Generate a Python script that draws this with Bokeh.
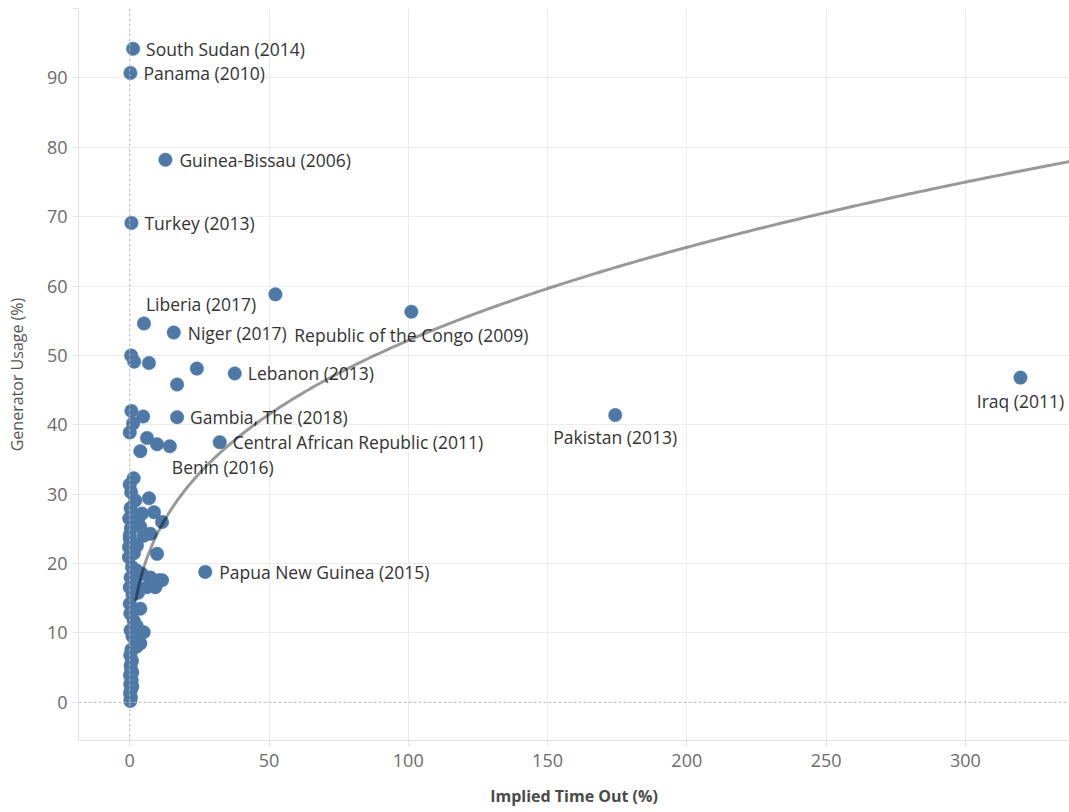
import numpy as np
from bokeh.plotting import figure
from bokeh.models import ColumnDataSource, Span, FixedTicker
from bokeh.core.properties import value
from bokeh.embed import file_html
from bokeh.resources import INLINE

# ---------------- data ----------------
label_names = ["South Sudan (2014)", "Panama (2010)", "Guinea-Bissau (2006)", "Turkey (2013)",
               "Liberia (2017)", "Niger (2017)", "Republic of the Congo (2009)", "Lebanon (2013)",
               "Gambia, The (2018)", "Central African Republic (2011)", "Benin (2016)",
               "Papua New Guinea (2015)", "Pakistan (2013)", "Iraq (2011)"]
label_time_out = [1.2, 0.25, 12.8, 0.6, 5.1, 15.8, 101.1, 37.7, 17.0, 32.3, 14.4, 27.1, 174.3, 319.8]
label_usage = [94.2, 90.7, 78.2, 69.1, 54.6, 53.3, 56.3, 47.4, 41.1, 37.5, 36.9, 18.8, 41.4, 46.8]

other_time_out = [52.3, 24.1, 17.0, 6.9, 1.6, 0.5, 0.6, 4.8, 1.2, 0.0, 6.2, 9.8, 3.8,
                  1.4, 0.0, 0.5, 6.9, 2.0, 0.3, 0.8, 4.4, 8.7, 11.6, -0.2, 0.4, 3.8, 7.4,
                  0.0, 0.0, 2.6, -0.3, 9.8, -0.3, 0.8, 4.4, 7.4, 10.5, 11.6, 9.2, 6.2, 0.0,
                  0.3, 2.0, 1.5, 5.0, 3.0, 1.0, 2.5, 1.0, 3.0,
                  0.0, 3.8, 1.4, 0.3, 5.0, 3.8, 1.0, 2.4, 0.2, 1.2, 2.5, 0.6, 0.2, 0.8,
                  0.3, 0.5, 0.1, 0.7, 0.2, 0.5, 0.1, 0.4, 0.2, 0.9, 0.9]
other_usage = [58.8, 48.1, 45.8, 48.9, 49.1, 50.0, 42.0, 41.2, 40.2, 38.9, 38.1, 37.2, 36.2,
               32.3, 31.4, 30.3, 29.4, 29.1, 28.0, 27.2, 27.2, 27.4, 26.0, 26.5, 25.1, 25.3, 24.3,
               24.1, 23.6, 22.6, 22.4, 21.4, 20.9, 19.5, 18.5, 18.0, 17.6, 17.6, 16.6, 16.6, 16.6,
               18.0, 17.2, 21.5, 24.0, 26.0, 23.0, 19.0, 15.5, 15.8,
               14.2, 13.5, 11.8, 10.4, 10.1, 8.5, 9.5, 8.0, 12.8, 13.2, 11.0, 7.6, 6.8, 6.0,
               5.3, 4.6, 3.9, 3.2, 2.6, 1.9, 1.3, 0.7, 0.2, 4.3, 2.3]

# points (power model)
trend_read_x = [2.1, 4.9, 12.1, 22.9, 29.0, 43.4, 56.5, 100.8, 147.5, 200.0, 250.0, 300.0, 334.5]
trend_read_y = [14.4, 19.5, 25.9, 32.0, 34.4, 39.9, 43.5, 52.9, 59.6, 65.2, 70.2, 74.5, 77.6]

x_ticks = [0, 50, 100, 150, 200, 250, 300]
y_ticks = [0, 10, 20, 30, 40, 50, 60, 70, 80, 90, 100]

# label placement (styling, pixels)
label_dx = [13, 13, 14, 13, 2, 14, 0, 13, 13, 13, 2, 14, 0, 0]
label_dy = [0, 0, 0, 0, -20, 0, 23, 0, 0, 0, 21, 0, 22, 23]
label_align = ["left", "left", "left", "left", "left", "left", "center", "left",
               "left", "left", "left", "left", "center", "center"]

# ---------------- figure ----------------
FONT = "Open Sans"
DOT = "#4e79a7"
GRID = "#ececec"

p = figure(width=1069, height=812, output_backend="svg", toolbar_location=None,
           x_range=(-18.4, 337.4), y_range=(-5.5, 100.0),
           min_border_left=78, min_border_right=0, min_border_top=8, min_border_bottom=72)
p.outline_line_color = None
p.background_fill_color = "white"
p.border_fill_color = "white"

# grids
p.xgrid.ticker = FixedTicker(ticks=x_ticks[1:])
p.ygrid.ticker = FixedTicker(ticks=y_ticks[1:])
p.xgrid.grid_line_color = GRID
p.ygrid.grid_line_color = GRID

# zero lines
p.add_layout(Span(location=0, dimension="height", line_color="#b8b8b8", line_dash="3 2", line_width=1))
p.add_layout(Span(location=0, dimension="width", line_color="#b8b8b8", line_dash="3 2", line_width=1))

# axes
for ax in (p.xaxis[0], p.yaxis[0]):
    ax.axis_line_color = "#e2e2e2"
    ax.major_tick_line_color = "#e2e2e2"
    ax.major_tick_out = 6
    ax.major_tick_in = 0
    ax.minor_tick_line_color = None
    ax.major_label_text_font = FONT
    ax.major_label_text_font_size = "18px"
    ax.major_label_text_color = "#6b6b6b"
    ax.axis_label_text_font = FONT
    ax.axis_label_text_font_size = "16px"

p.xaxis.ticker = FixedTicker(ticks=x_ticks)
p.yaxis.ticker = FixedTicker(ticks=y_ticks)
p.yaxis.major_label_overrides = {100: ""}
p.xaxis.major_label_standoff = 7
p.yaxis.major_label_standoff = 5

p.xaxis.axis_label = "Implied Time Out (%)"
p.xaxis.axis_label_text_font_style = "bold"
p.xaxis.axis_label_text_color = "#4a4a4a"
p.xaxis.axis_label_standoff = 15
p.yaxis.axis_label = "Generator Usage (%)"
p.yaxis.axis_label_text_font_style = "normal"
p.yaxis.axis_label_text_color = "#555555"
p.yaxis.axis_label_standoff = 16

# points
p.scatter(other_time_out, other_usage, size=13.5, fill_color=DOT, line_color=DOT, line_width=0.5)
lab_src = ColumnDataSource(dict(x=label_time_out, y=label_usage, name=label_names,
                                dx=label_dx, dy=label_dy, align=label_align))
p.scatter("x", "y", source=lab_src, size=13.5, fill_color=DOT, line_color=DOT, line_width=0.5)

p.text("x", "y", text="name", source=lab_src, x_offset="dx", y_offset="dy",
       text_align="align", text_baseline="middle",
       text_font=value(FONT), text_font_size="17.5px", text_color="#333333")

# trend line: power model fitted to the read-off trend points
b, ln_a = np.polyfit(np.log(trend_read_x), np.log(trend_read_y), 1)
tx = np.linspace(min(trend_read_x), 345, 300)
ty = np.exp(ln_a) * tx ** b
p.line(tx, ty, line_color="black", line_alpha=0.4, line_width=3)

open("out.html", "w").write(file_html(p, INLINE))
